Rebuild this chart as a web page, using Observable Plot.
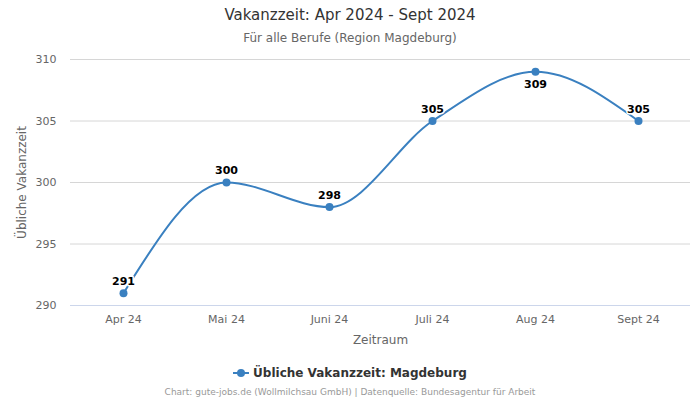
<!DOCTYPE html>
<html>
<head>
<meta charset="utf-8">
<script src="https://cdn.jsdelivr.net/npm/d3@7"></script>
<script src="https://cdn.jsdelivr.net/npm/@observablehq/plot@0.6"></script>
<style>
  html, body { margin: 0; padding: 0; background: #fff; }
  body { width: 700px; height: 400px; font-family: "DejaVu Sans", sans-serif; position: relative; overflow: hidden; }
  #title { position: absolute; top: 6px; left: 0; width: 700px; text-align: center; font-size: 15px; color: #333; }
  #subtitle { position: absolute; top: 31px; left: 0; width: 700px; text-align: center; font-size: 12px; color: #666; }
  #chart { position: absolute; top: 50px; left: 0; }
  #legend { position: absolute; top: 366px; left: 0; width: 700px; text-align: center; font-size: 12px; font-weight: bold; color: #333; }
  #legend svg { vertical-align: middle; margin-right: 4px; position: relative; top: -1px; }
  #caption { position: absolute; top: 387px; left: 0; width: 700px; text-align: center; font-size: 9px; color: #999; }
</style>
</head>
<body>
<div id="title">Vakanzzeit: Apr 2024 - Sept 2024</div>
<div id="subtitle">Für alle Berufe (Region Magdeburg)</div>
<div id="chart"></div>
<div id="legend"><svg width="16" height="10"><line x1="0" y1="5" x2="16" y2="5" stroke="#3a80c0" stroke-width="2"/><circle cx="8" cy="5" r="4" fill="#3a80c0"/></svg>Übliche Vakanzzeit: Magdeburg</div>
<div id="caption">Chart: gute-jobs.de (Wollmilchsau GmbH) | Datenquelle: Bundesagentur für Arbeit</div>
<script>
const months = ["Apr 24", "Mai 24", "Juni 24", "Juli 24", "Aug 24", "Sept 24"];
const values = [291, 300, 298, 305, 309, 305];
const yTicks = [290, 295, 300, 305, 310];

const data = months.map((m, i) => ({month: m, value: values[i]}));
const maxV = d3.max(values);
const color = "#3a80c0";

const plot = Plot.plot({
  width: 700,
  height: 300,
  marginTop: 9,
  marginBottom: 45,
  marginLeft: 70,
  marginRight: 10,
  style: {fontFamily: "DejaVu Sans, sans-serif", fontSize: "11px", color: "#666", background: "transparent"},
  x: {type: "point", domain: months, padding: 0.5},
  y: {domain: [290, 310]},
  marks: [
    Plot.gridY(yTicks, {stroke: "#d6d6d6", strokeOpacity: 1}),
    Plot.ruleY([290], {stroke: "#ccd6eb"}),
    Plot.axisY(yTicks, {tickSize: 0, tickPadding: 14, fontSize: 11, fill: "#666", label: null}),
    Plot.text(["Übliche Vakanzzeit"], {frameAnchor: "left", dx: -48, rotate: -90, textAnchor: "middle", lineAnchor: "middle", fontSize: 12, fill: "#666"}),
    Plot.axisX({tickSize: 0, tickPadding: 10, fontSize: 11, fill: "#666", label: null}),
    Plot.text(["Zeitraum"], {frameAnchor: "bottom", dy: 35, lineAnchor: "middle", fontSize: 12, fill: "#666"}),
    Plot.line(data, {x: "month", y: "value", stroke: color, strokeWidth: 2, curve: "monotone-x"}),
    Plot.dot(data, {x: "month", y: "value", r: 4, fill: color}),
    Plot.text(data, {x: "month", y: "value", text: d => String(d.value), fontWeight: "bold", fontSize: 11, fill: "#000",
      stroke: "#fff", strokeWidth: 3, paintOrder: "stroke",
      filter: d => d.value !== maxV, dy: -12}),
    Plot.text(data, {x: "month", y: "value", text: d => String(d.value), fontWeight: "bold", fontSize: 11, fill: "#000",
      stroke: "#fff", strokeWidth: 3, paintOrder: "stroke",
      filter: d => d.value === maxV, dy: 13})
  ]
});
document.getElementById("chart").appendChild(plot);
</script>
</body>
</html>
